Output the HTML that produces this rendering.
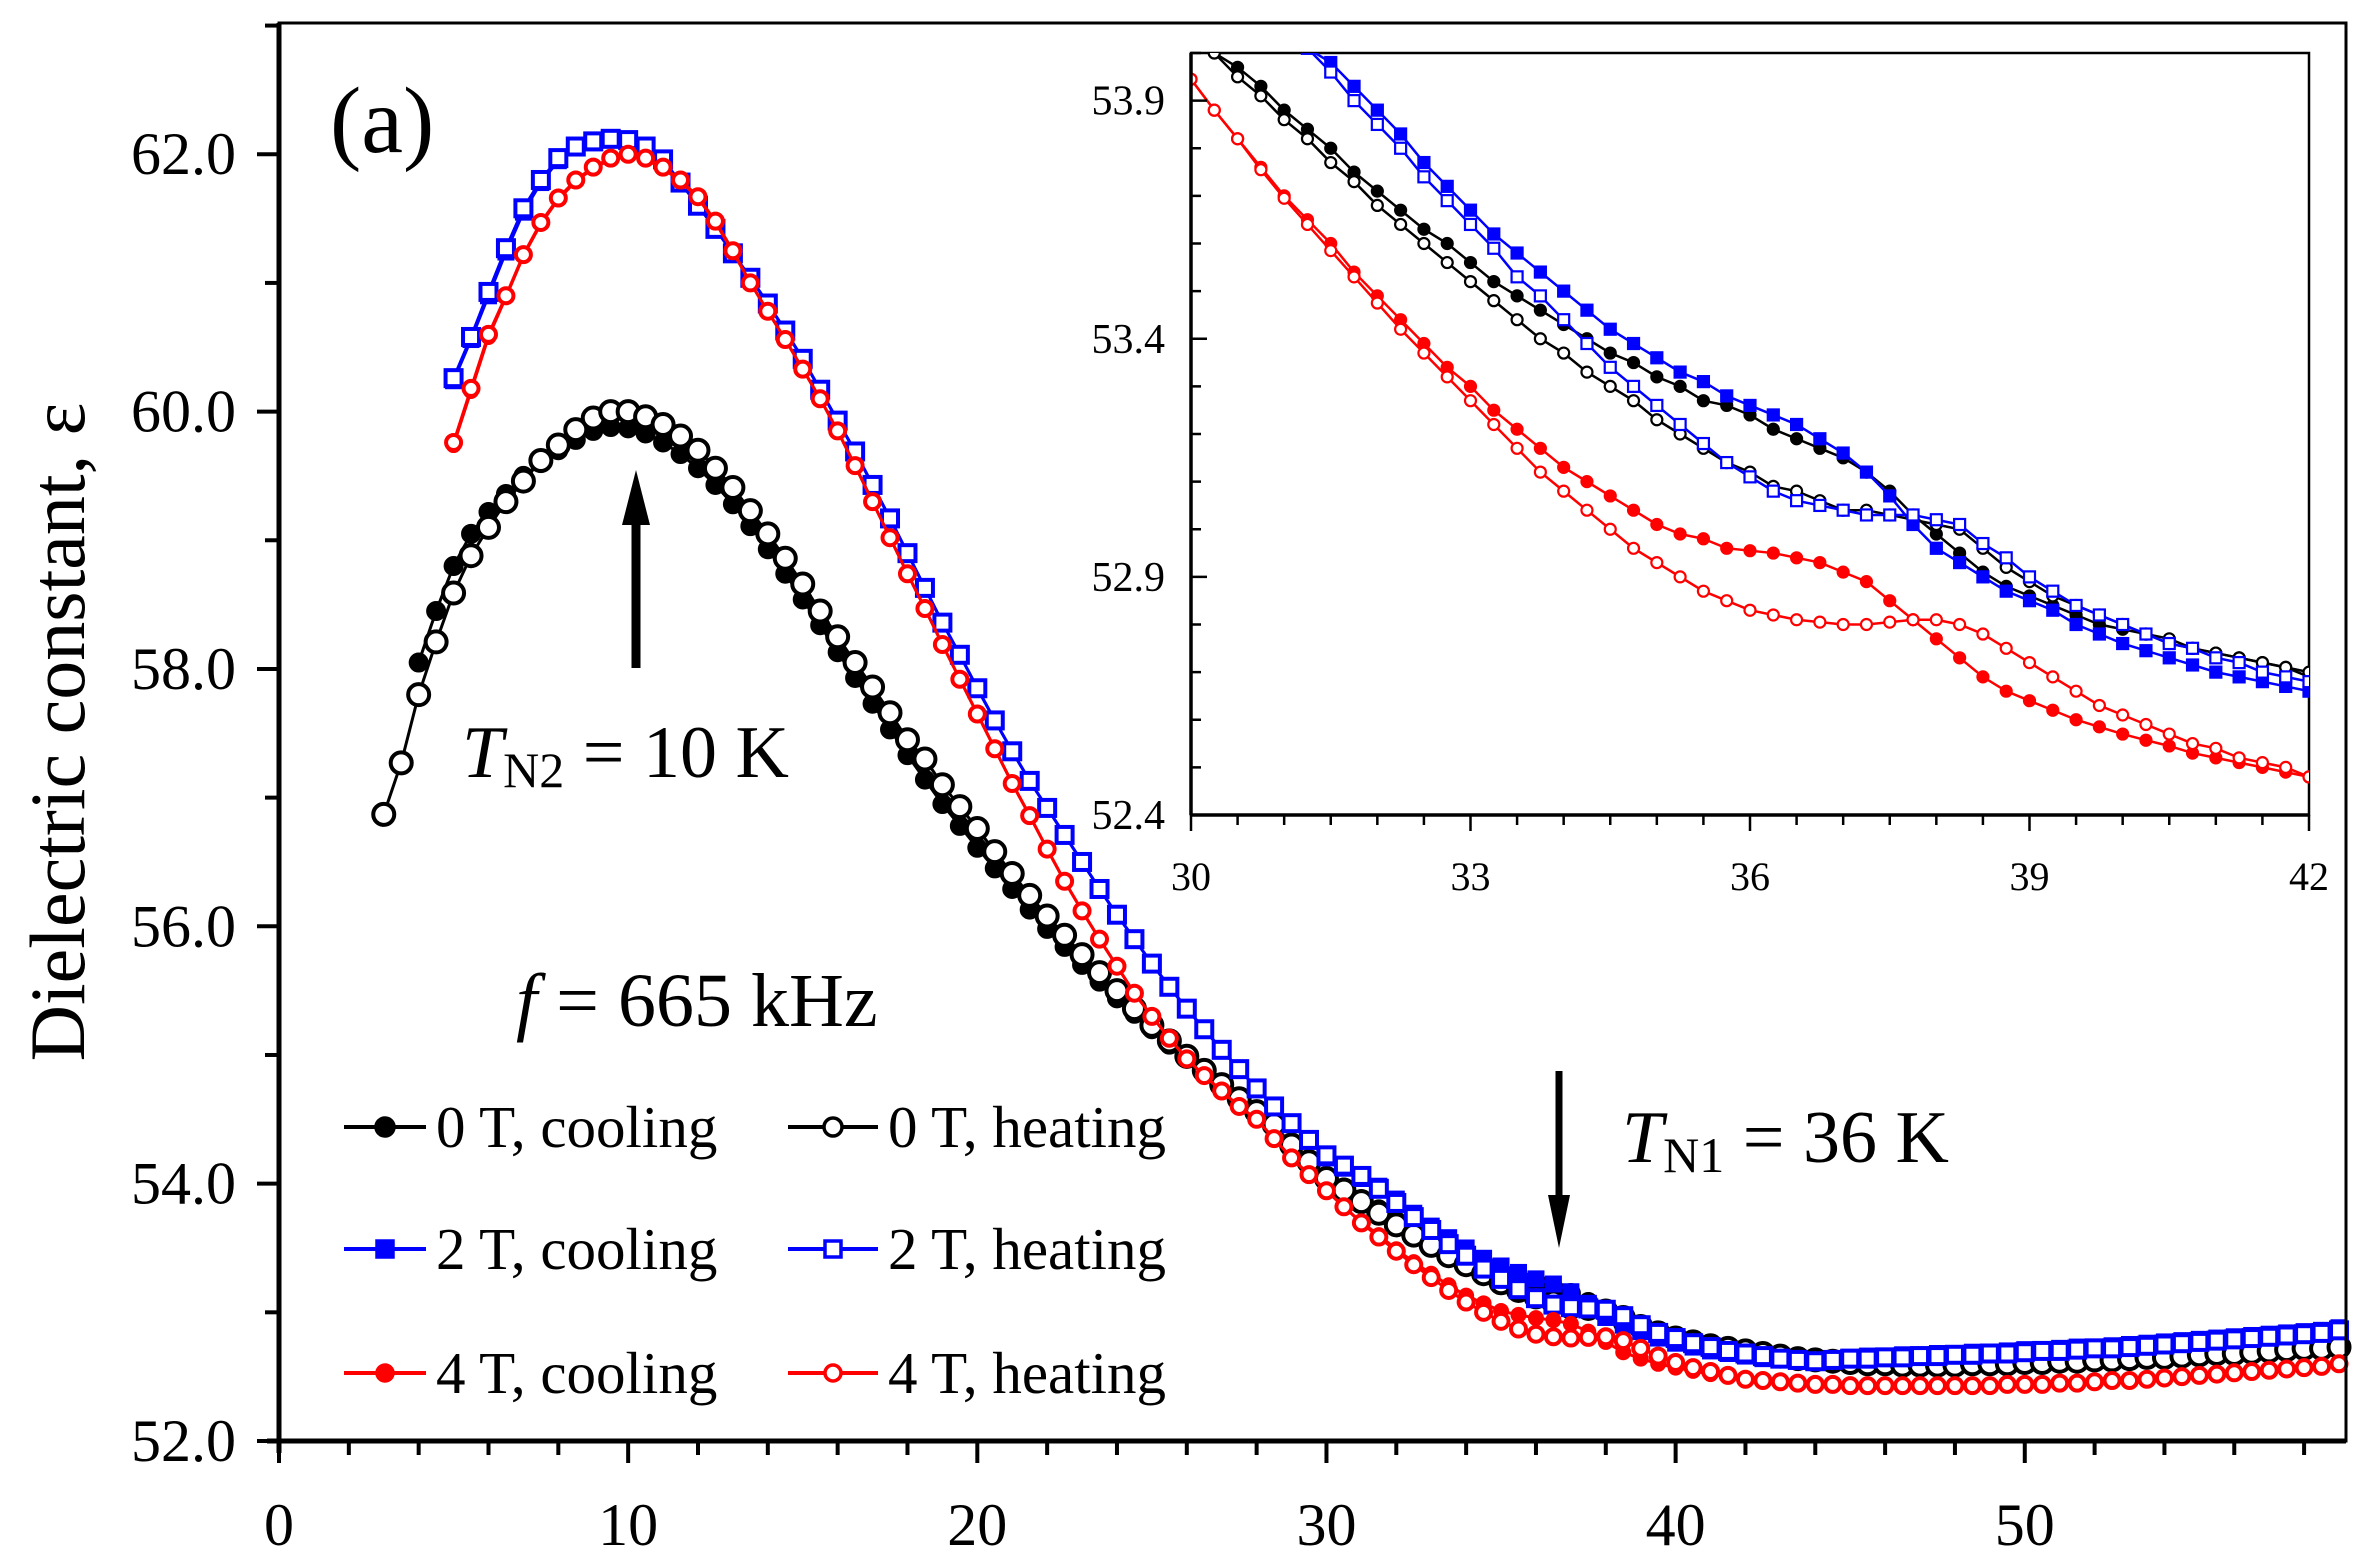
<!DOCTYPE html>
<html><head><meta charset="utf-8">
<style>
html,body{margin:0;padding:0;background:#fff;}
svg{display:block;font-family:"Liberation Serif",serif;}
</style></head>
<body>
<svg id="chart" width="2366" height="1562" viewBox="0 0 2366 1562" xmlns="http://www.w3.org/2000/svg">
<rect x="0" y="0" width="2366" height="1562" fill="#fff"/>
<g id="mainSeries"></g>
<g id="mainAxes"></g>
<g id="inset"></g>
<g id="annot">
  <text x="330" y="152" font-size="94">(a)</text>
  <text x="462" y="777" font-size="74"><tspan font-style="italic">T</tspan><tspan font-size="50" dy="10">N2</tspan><tspan dy="-10"> = 10 K</tspan></text>
  <line x1="636" y1="668" x2="636" y2="520" stroke="#000" stroke-width="9"/>
  <polygon points="636,470 622,525 650,525" fill="#000"/>
  <text x="516" y="1026" font-size="76"><tspan font-style="italic">f</tspan> = 665 kHz</text>
  <text x="1622" y="1162" font-size="74"><tspan font-style="italic">T</tspan><tspan font-size="50" dy="10">N1</tspan><tspan dy="-10"> = 36 K</tspan></text>
  <line x1="1559" y1="1071" x2="1559" y2="1200" stroke="#000" stroke-width="7"/>
  <polygon points="1559,1248 1548,1195 1570,1195" fill="#000"/>
  <text transform="translate(84,732) rotate(-90)" text-anchor="middle" font-size="78">Dielectric constant, ε</text>
</g>
<g id="legend"></g>
</svg>
<script>
// ---------- main chart data ----------
const start0h = 3, start0c = 4, start2 = 5, start4 = 5;
const main0h = [56.87,57.27,57.8,58.21,58.59,58.88,59.1,59.3,59.46,59.62,
59.74,59.86,59.95,60.0,60.0,59.96,59.9,59.81,59.7,59.56,
59.41,59.23,59.05,58.86,58.66,58.45,58.25,58.05,57.86,57.66,
57.45,57.3,57.1,56.93,56.76,56.58,56.41,56.24,56.08,55.93,
55.78,55.64,55.5,55.36,55.23,55.11,54.99,54.88,54.77,54.66,
54.56,54.46,54.3,54.17,54.04,53.95,53.86,53.77,53.68,53.6,
53.52,53.44,53.37,53.3,53.23,53.17,53.12,53.08,53.04,53.03,
53.01,52.96,52.89,52.84,52.8,52.77,52.74,52.72,52.7,52.68,
52.66,52.64,52.63,52.62,52.61,
52.6,52.6,52.59,52.59,52.59,52.59,52.6,52.6,52.6,52.61,52.61,52.62,52.62,52.63,52.63,52.64,52.65,52.65,52.66,52.67,52.68,52.68,52.69,52.7,52.71,52.72,52.72,52.73];
const main0c = [58.05,58.45,58.8,59.05,59.22,59.36,59.5,59.6,59.7,59.78,
59.85,59.88,59.87,59.83,59.76,59.67,59.56,59.43,59.28,59.11,
58.93,58.74,58.54,58.34,58.13,57.93,57.73,57.53,57.33,57.14,
56.95,56.78,56.61,56.45,56.29,56.13,55.98,55.84,55.7,55.57,
55.44,55.32,55.2,55.08,54.97,54.86,54.75,54.65,54.55,54.45,
54.3,54.16,54.03,53.97,53.88,53.8,53.71,53.63,53.56,53.49,
53.43,53.37,53.32,53.27,53.24,53.19,53.15,53.08,52.99,52.91,
52.86,52.82,52.79,52.76,52.74,52.72,52.69,52.67,52.65,52.64,
52.63,52.62,52.61,
52.6,52.6,52.59,52.59,52.59,52.59,52.59,52.6,52.6,52.6,52.61,52.61,52.62,52.62,52.63,52.64,52.64,52.65,52.66,52.66,52.67,52.68,52.69,52.69,52.7,52.71,52.72,52.72];
const main2h = [60.26,60.58,60.93,61.27,61.58,61.8,61.97,62.06,62.1,62.12,
62.11,62.06,61.96,61.78,61.6,61.42,61.23,61.04,60.84,60.63,
60.41,60.17,59.93,59.69,59.43,59.17,58.9,58.63,58.36,58.11,
57.85,57.6,57.36,57.13,56.92,56.71,56.5,56.29,56.09,55.9,
55.71,55.53,55.36,55.2,55.04,54.89,54.74,54.6,54.47,54.34,
54.22,54.14,54.06,53.96,53.85,53.74,53.64,53.53,53.44,53.34,
53.26,53.18,53.11,53.06,53.04,53.03,53.02,52.97,52.9,52.84,
52.8,52.76,52.73,52.7,52.68,52.66,52.64,52.63,52.62,52.63,
52.64,
52.64,52.65,52.65,52.66,52.66,52.67,52.67,52.68,52.68,52.69,52.7,52.7,52.71,52.72,52.72,52.73,52.74,52.75,52.76,52.77,52.78,52.79,52.8,52.81,52.82,52.83,52.84,52.86];
const main2c = [60.24,60.56,60.9,61.24,61.55,61.78,61.95,62.05,62.09,62.11,
62.1,62.05,61.95,61.78,61.6,61.42,61.23,61.04,60.84,60.63,
60.41,60.17,59.93,59.69,59.43,59.17,58.9,58.63,58.36,58.11,
57.85,57.6,57.36,57.13,56.92,56.71,56.5,56.29,56.09,55.9,
55.71,55.53,55.36,55.2,55.04,54.89,54.74,54.6,54.46,54.33,
54.2,54.12,54.04,53.98,53.88,53.77,53.67,53.58,53.5,53.42,
53.36,53.31,53.26,53.22,53.16,53.07,52.96,52.9,52.85,52.8,
52.76,52.73,52.7,52.68,52.66,52.64,52.63,52.62,52.62,52.64,
52.65,
52.66,52.66,52.67,52.67,52.68,52.68,52.69,52.69,52.7,52.71,52.71,52.72,52.73,52.73,52.74,52.75,52.76,52.77,52.78,52.79,52.8,52.81,52.82,52.83,52.84,52.85,52.86,52.88];
const main4h = [59.76,60.18,60.6,60.9,61.22,61.47,61.66,61.8,61.9,61.97,
62.0,61.97,61.9,61.8,61.67,61.48,61.25,61.0,60.78,60.56,
60.33,60.1,59.85,59.58,59.3,59.02,58.74,58.47,58.19,57.92,
57.65,57.38,57.11,56.86,56.6,56.35,56.12,55.9,55.69,55.48,
55.3,55.13,54.97,54.84,54.72,54.6,54.5,54.35,54.2,54.07,
53.945,53.82,53.695,53.585,53.475,53.37,53.27,53.17,53.08,53.0,
52.93,52.87,52.83,52.81,52.8,52.805,52.81,52.78,52.72,52.66,
52.61,52.57,52.54,52.51,52.48,52.47,52.46,52.45,52.44,52.44,
52.43,
52.43,52.43,52.43,52.43,52.43,52.43,52.43,52.43,52.44,52.44,52.44,52.45,52.45,52.46,52.47,52.47,52.48,52.49,52.5,52.51,52.52,52.53,52.54,52.55,52.56,52.57,52.58,52.6];
const main4c = [59.74,60.16,60.58,60.89,61.21,61.46,61.65,61.79,61.89,61.96,
61.99,61.96,61.89,61.79,61.66,61.47,61.24,61.0,60.78,60.56,
60.33,60.1,59.85,59.58,59.3,59.02,58.74,58.47,58.19,57.92,
57.65,57.38,57.11,56.86,56.6,56.35,56.12,55.9,55.69,55.48,
55.3,55.13,54.97,54.84,54.72,54.6,54.5,54.35,54.2,54.07,
53.945,53.82,53.7,53.6,53.49,53.39,53.3,53.21,53.13,53.07,
53.01,52.98,52.955,52.94,52.91,52.85,52.77,52.69,52.64,52.6,
52.57,52.545,52.52,52.5,52.48,52.47,52.46,52.45,52.44,52.44,
52.43,
52.43,52.43,52.43,52.43,52.43,52.43,52.43,52.43,52.44,52.44,52.44,52.45,52.45,52.46,52.47,52.47,52.48,52.49,52.5,52.51,52.52,52.53,52.54,52.55,52.56,52.57,52.58,52.6];
const mainXTicks = [0,10,20,30,40,50];
const mainYTicks = ["52.0","54.0","56.0","58.0","60.0","62.0"];

// ---------- inset data (30–42 K, 0.25 K step) ----------
const insetStart = 30;
const ins0c = [54.03,54.0,53.97,53.93,53.88,53.84,53.8,53.75,53.71,53.67,53.63,53.6,53.56,53.52,53.49,53.46,53.43,53.4,53.37,53.35,53.32,53.3,53.27,53.26,53.24,53.21,53.19,53.17,53.15,53.12,53.08,53.03,52.99,52.95,52.91,52.88,52.86,52.84,52.82,52.8,52.79,52.78,52.76,52.75,52.74,52.73,52.72,52.71,52.69];
const ins0h = [54.04,54.0,53.95,53.91,53.86,53.82,53.77,53.73,53.68,53.64,53.6,53.56,53.52,53.48,53.44,53.4,53.37,53.33,53.3,53.27,53.23,53.2,53.17,53.14,53.12,53.09,53.08,53.06,53.04,53.04,53.03,53.02,53.01,53.0,52.96,52.92,52.89,52.86,52.84,52.82,52.8,52.78,52.77,52.75,52.74,52.73,52.72,52.71,52.7];
const ins2c = [54.2,54.16,54.12,54.08,54.04,54.01,53.98,53.93,53.88,53.83,53.77,53.72,53.67,53.62,53.58,53.54,53.5,53.46,53.42,53.39,53.36,53.33,53.31,53.28,53.26,53.24,53.22,53.19,53.16,53.12,53.07,53.01,52.96,52.93,52.9,52.87,52.85,52.83,52.8,52.78,52.76,52.745,52.73,52.715,52.7,52.69,52.68,52.67,52.66];
const ins2h = [54.22,54.18,54.14,54.1,54.06,54.01,53.96,53.9,53.85,53.8,53.74,53.69,53.64,53.59,53.53,53.49,53.44,53.39,53.34,53.3,53.26,53.22,53.18,53.14,53.11,53.08,53.06,53.05,53.04,53.03,53.03,53.03,53.02,53.01,52.97,52.94,52.9,52.87,52.84,52.82,52.8,52.78,52.76,52.75,52.73,52.72,52.7,52.69,52.68];
const ins4c = [53.945,53.88,53.82,53.76,53.7,53.65,53.6,53.54,53.49,53.44,53.39,53.34,53.3,53.25,53.21,53.17,53.13,53.1,53.07,53.04,53.01,52.99,52.98,52.96,52.955,52.95,52.94,52.93,52.91,52.89,52.85,52.81,52.77,52.73,52.69,52.66,52.64,52.62,52.6,52.585,52.57,52.557,52.545,52.53,52.52,52.51,52.5,52.49,52.48];
const ins4h = [53.945,53.88,53.82,53.755,53.695,53.64,53.585,53.53,53.475,53.42,53.37,53.32,53.27,53.22,53.17,53.12,53.08,53.04,53.0,52.96,52.93,52.9,52.87,52.85,52.83,52.82,52.81,52.805,52.8,52.8,52.805,52.81,52.81,52.8,52.78,52.75,52.72,52.69,52.66,52.63,52.61,52.59,52.57,52.55,52.54,52.52,52.51,52.5,52.48];
const insetXTicks = [30,33,36,39,42];
const insetYTicks = ["52.4","52.9","53.4","53.9"];
const legendLabels = ["0 T, cooling","0 T, heating","2 T, cooling","2 T, heating","4 T, cooling","4 T, heating"];

// ---------- geometry ----------
const NS = "http://www.w3.org/2000/svg";
const M = {l:279, r:2346, t:23, b:1441, x0:0, x1:59.2, y0:52, y1:63.02};
const I = {l:1191, r:2309, t:53, b:815, x0:30, x1:42, y0:52.4, y1:54.0};
function sx(A,v){return A.l+(v-A.x0)/(A.x1-A.x0)*(A.r-A.l);}
function sy(A,v){return A.b-(v-A.y0)/(A.y1-A.y0)*(A.b-A.t);}
function mk(tag,attrs,parent){const e=document.createElementNS(NS,tag);for(const k in attrs)e.setAttribute(k,attrs[k]);parent.appendChild(e);return e;}

const BLUE="#0000ff", RED="#ff0000", BLK="#000000";
const specs = [
 {key:"0T-cooling", main:main0c, ms:start0c, ins:ins0c, color:BLK, shape:"circle", filled:true},
 {key:"0T-heating", main:main0h, ms:start0h, ins:ins0h, color:BLK, shape:"circle", filled:false},
 {key:"2T-cooling", main:main2c, ms:start2, ins:ins2c, color:BLUE, shape:"square", filled:true},
 {key:"2T-heating", main:main2h, ms:start2, ins:ins2h, color:BLUE, shape:"square", filled:false},
 {key:"4T-cooling", main:main4c, ms:start4, ins:ins4c, color:RED, shape:"circle", filled:true},
 {key:"4T-heating", main:main4h, ms:start4, ins:ins4h, color:RED, shape:"circle", filled:false}
];
function marker(parent,s,x,y,size,sw,name){
  let e;
  if(s.shape==="square"){
    e=mk("rect",{x:x-size,y:y-size,width:2*size,height:2*size,fill:s.filled?s.color:"#fff",stroke:s.color,"stroke-width":sw},parent);
  } else {
    e=mk("circle",{cx:x,cy:y,r:size,fill:s.filled?s.color:"#fff",stroke:s.color,"stroke-width":sw},parent);
  }
  
  
}
function mainSize(s){
  if(s.color===BLK) return s.filled?9.5:10.5;
  if(s.color===BLUE) return 8;
  return s.filled?7.5:7.5;
}

// main series
const gMain=document.getElementById("mainSeries");
specs.forEach(s=>{
  const g=mk("g",{},gMain);
  
  
  const pts=s.main.map((v,i)=>[sx(M,s.ms+0.5*i),sy(M,v)]);
  const pl=mk("polyline",{points:pts.map(p=>p.join(",")).join(" "),fill:"none",stroke:s.color,"stroke-width":3},g);
  
  
  pts.forEach(p=>marker(g,s,p[0],p[1],mainSize(s),s.filled?1:4,'point-'+s.key));
});

// main axes
const gA=document.getElementById("mainAxes");
mk("rect",{x:M.l,y:M.t,width:M.r-M.l,height:M.b-M.t,fill:"none",stroke:"#000","stroke-width":3},gA);
const xa=mk("line",{x1:M.l-12,y1:M.b,x2:M.r,y2:M.b,stroke:"#000","stroke-width":5},gA);

const ya=mk("line",{x1:M.l,y1:M.t,x2:M.l,y2:M.b+12,stroke:"#000","stroke-width":5},gA);

for(let t=0;t<=58;t+=2){
  const major=t%10===0;
  const l=mk("line",{x1:sx(M,t),y1:M.b,x2:sx(M,t),y2:M.b+(major?22:14),stroke:"#000","stroke-width":4},gA);
  
  
}
mainXTicks.forEach(t=>{
  const e=mk("text",{x:sx(M,t),y:1545,"text-anchor":"middle","font-size":60},gA);
  e.textContent=String(t);
  
  
});
for(let v=52;v<=63;v+=1){
  const major=v%2===0;
  const l=mk("line",{x1:M.l,y1:sy(M,v),x2:M.l-(major?22:14),y2:sy(M,v),stroke:"#000","stroke-width":4},gA);
  
  
}
mainYTicks.forEach(t=>{
  const e=mk("text",{x:236,y:sy(M,parseFloat(t))+20,"text-anchor":"end","font-size":60},gA);
  e.textContent=t;
  
  
});

// inset
const gI=document.getElementById("inset");
const bg=mk("rect",{x:I.l,y:I.t,width:I.r-I.l,height:I.b-I.t,fill:"#fff",stroke:"#000","stroke-width":2.5},gI);


const clip=mk("clipPath",{id:"insClip"},gI);
mk("rect",{x:I.l,y:I.t,width:I.r-I.l,height:I.b-I.t},clip);
const gIS=mk("g",{"clip-path":"url(#insClip)"},gI);


specs.forEach(s=>{
  const g=mk("g",{},gIS);
  
  
  const pts=s.ins.map((v,i)=>[sx(I,insetStart+0.25*i),sy(I,v)]);
  const pl=mk("polyline",{points:pts.map(p=>p.join(",")).join(" "),fill:"none",stroke:s.color,"stroke-width":2.5},g);
  
  
  pts.forEach(p=>marker(g,s,p[0],p[1],5.5,2.2,'inset-point-'+s.key));
});
mk("line",{x1:I.l,y1:I.b,x2:I.r,y2:I.b,stroke:"#000","stroke-width":3.5},gI);
mk("line",{x1:I.l,y1:I.t,x2:I.l,y2:I.b,stroke:"#000","stroke-width":3.5},gI);
for(let k=0;k<=24;k++){
  const t=30+k*0.5, major=k%6===0;
  const l=mk("line",{x1:sx(I,t),y1:I.b,x2:sx(I,t),y2:I.b+(major?16:10),stroke:"#000","stroke-width":2.5},gI);
  
  
}
insetXTicks.forEach(t=>{
  const e=mk("text",{x:sx(I,t),y:890,"text-anchor":"middle","font-size":40},gI);
  e.textContent=String(t);
  
  
});
for(let k=0;k<=16;k++){
  const v=52.4+k*0.1, major=k%5===0;
  const l=mk("line",{x1:I.l,y1:sy(I,v),x2:I.l+(major?16:10),y2:sy(I,v),stroke:"#000","stroke-width":2.5},gI);
  
  
}
insetYTicks.forEach(t=>{
  const e=mk("text",{x:I.l-26,y:sy(I,parseFloat(t))+14,"text-anchor":"end","font-size":42},gI);
  e.textContent=t;
  
  
});

// legend
const gL=document.getElementById("legend");
const colX=[[344,426,385,436],[788,878,833,888]];
const rowY=[1127,1249,1373];
specs.forEach((s,i)=>{
  const c=colX[i%2], r=rowY[Math.floor(i/2)];
  const g=mk("g",{},gL);
  
  
  mk("line",{x1:c[0],y1:r,x2:c[1],y2:r,stroke:s.color,"stroke-width":4},g);
  marker(g,s,c[2],r,s.color===BLK?9:8,3.5,'legend-marker-'+s.key);
  const t=mk("text",{x:c[3],y:r+20,"font-size":59},g);
  t.textContent=legendLabels[i];
  
  
});
</script>
</body></html>
